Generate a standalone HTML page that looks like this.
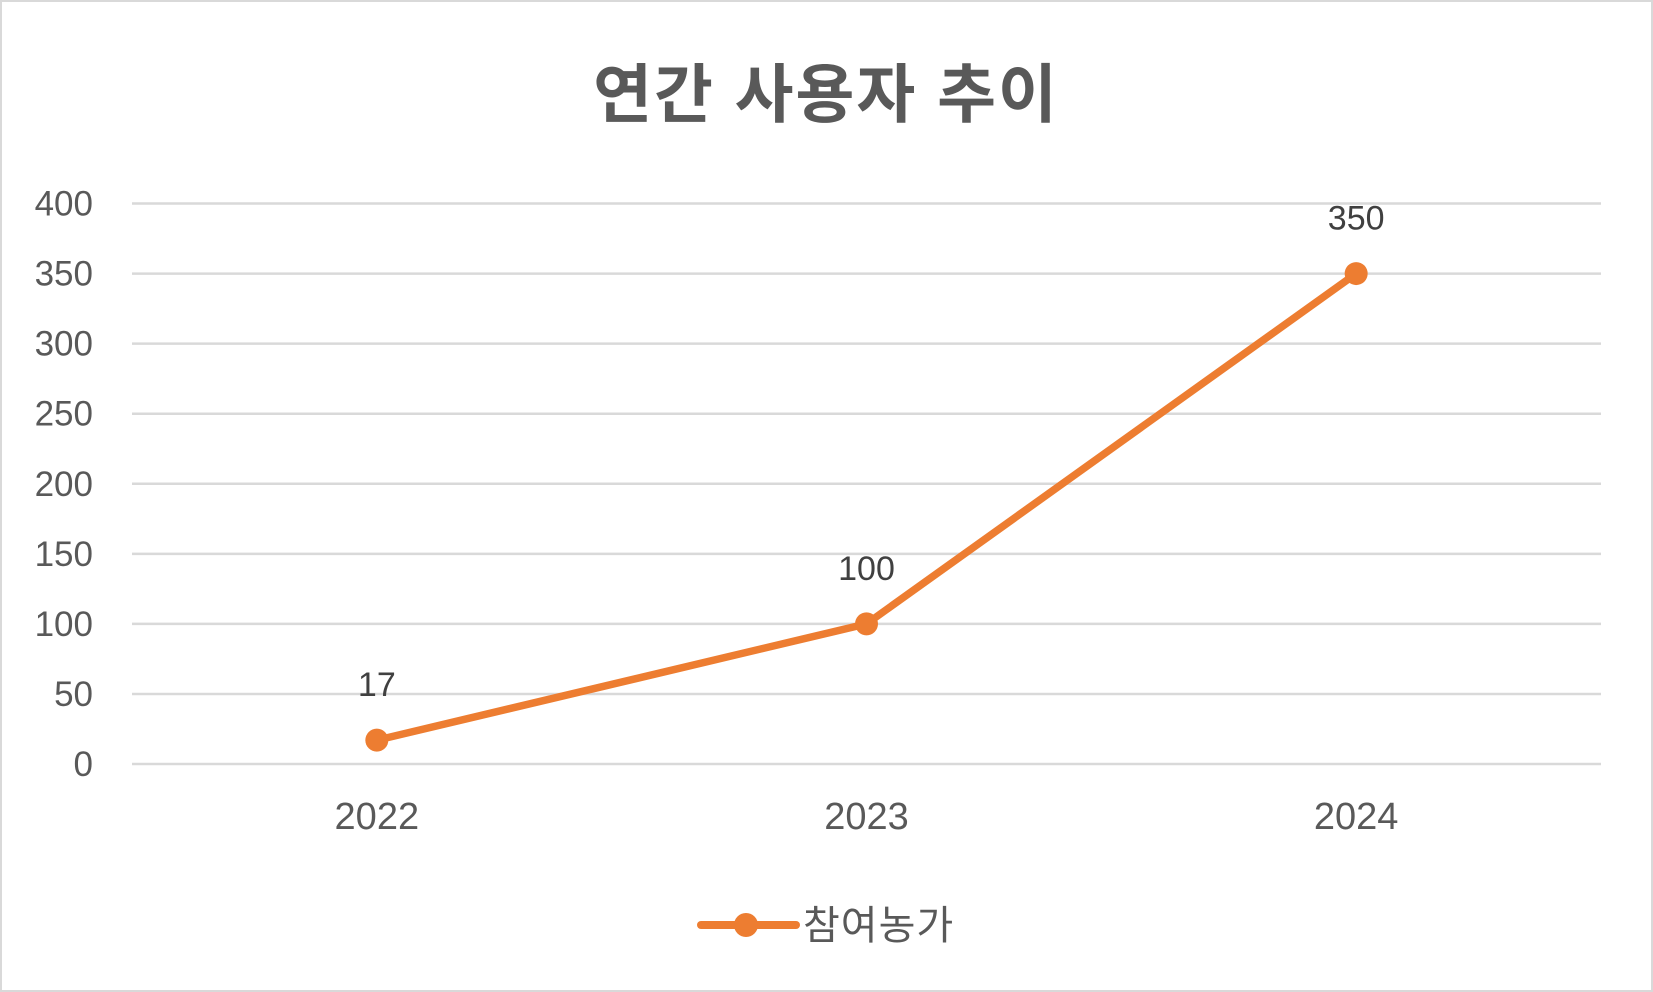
<!DOCTYPE html>
<html><head><meta charset="utf-8"><style>
html,body{margin:0;padding:0;background:#fff;}
svg{display:block;}
</style></head><body>
<svg id="chart" width="1653" height="992" xmlns="http://www.w3.org/2000/svg">
<rect x="1" y="1" width="1651" height="990" fill="#fff" stroke="#d9d9d9" stroke-width="2"/>
<text x="826" y="117" text-anchor="middle" font-family="'Liberation Sans','Noto Sans CJK KR',sans-serif" font-weight="bold" font-size="64" letter-spacing="2" fill="#595959">연간 사용자 추이</text>
<g id="grid"></g><g id="yticks"></g><g id="xticks"></g><g id="series"></g>
<g>
<line x1="701" y1="925" x2="796" y2="925" stroke="#ED7D31" stroke-width="8" stroke-linecap="round"/>
<circle cx="746" cy="925" r="12" fill="#ED7D31"/>
<text x="803" y="939" font-family="'Liberation Sans','Noto Sans CJK KR',sans-serif" font-size="40" letter-spacing="1" fill="#595959">참여농가</text>
</g>
</svg>
<script>
const categories = ["2022","2023","2024"];
const values = [17,100,350];
const yTicks = [0,50,100,150,200,250,300,350,400];
const NS="http://www.w3.org/2000/svg";
const X0=132,X1=1601,Y0=764,Y1=203.5,YMAX=400;
const xs=i=>X0+(X1-X0)/categories.length*(i+0.5);
const ys=v=>Y0-(Y0-Y1)*v/YMAX;
function mk(t,a,p){const e=document.createElementNS(NS,t);for(const k in a)e.setAttribute(k,a[k]);p.appendChild(e);return e;}
const F="'Liberation Sans','Noto Sans CJK KR',sans-serif";
const g=document.getElementById('grid'),yt=document.getElementById('yticks'),xt=document.getElementById('xticks'),s=document.getElementById('series');
yTicks.forEach(v=>{
 const l=mk('line',{x1:X0,x2:X1,y1:ys(v),y2:ys(v),stroke:'#d9d9d9','stroke-width':2.5},g);
 
 
 const t=mk('text',{x:93,y:ys(v)+12,'text-anchor':'end','font-family':F,'font-size':35,fill:'#595959'},yt);
 t.textContent=v;
 
 
});
categories.forEach((c,i)=>{
 const t=mk('text',{x:xs(i),y:829,'text-anchor':'middle','font-family':F,'font-size':38,fill:'#595959'},xt);
 t.textContent=c;
 
 
});
const pl=mk('polyline',{points:values.map((v,i)=>xs(i)+','+ys(v)).join(' '),fill:'none',stroke:'#ED7D31','stroke-width':7.5,'stroke-linejoin':'round','stroke-linecap':'round'},s);


values.forEach((v,i)=>{
 const c=mk('circle',{cx:xs(i),cy:ys(v),r:11.5,fill:'#ED7D31'},s);
 
 
 const t=mk('text',{x:xs(i),y:ys(v)-44,'text-anchor':'middle','font-family':F,'font-size':34,fill:'#404040'},s);
 t.textContent=v;
 
 
});
</script>
</body></html>
